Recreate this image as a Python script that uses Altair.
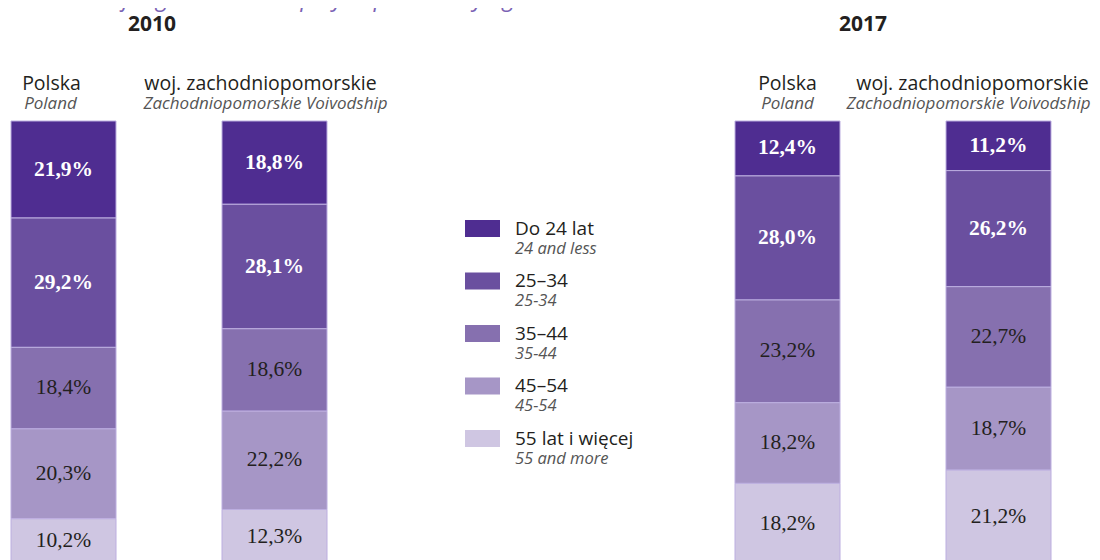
import altair as alt
import pandas as pd

# ---- data -------------------------------------------------------------
years = ["2010", "2017"]
regions = ["Polska", "woj. zachodniopomorskie"]
regions_en = ["Poland", "Zachodniopomorskie Voivodship"]
age_pl = ["Do 24 lat", "25\u201334", "35\u201344", "45\u201354", "55 lat i więcej"]
age_en = ["24 and less", "25-34", "35-44", "45-54", "55 and more"]
poland_2010 = [21.9, 29.2, 18.4, 20.3, 10.2]
zach_2010 = [18.8, 28.1, 18.6, 22.2, 12.3]
poland_2017 = [12.4, 28.0, 23.2, 18.2, 18.2]
zach_2017 = [11.2, 26.2, 22.7, 18.7, 21.2]
title_text = "Structure of registered unemployed persons by age"

colors = ["#4f2d91", "#6a4f9f", "#8670af", "#a696c6", "#cfc6e2"]

series = {
    ("2010", "Polska"): poland_2010,
    ("2010", "woj. zachodniopomorskie"): zach_2010,
    ("2017", "Polska"): poland_2017,
    ("2017", "woj. zachodniopomorskie"): zach_2017,
}

rows = []
for (yr, reg), vals in series.items():
    for i, v in enumerate(vals):
        rows.append({
            "year": yr, "region": reg, "age": age_pl[i], "idx": i, "value": v,
            "label": f"{v:.1f}".replace(".", ",") + "%",
        })
df = pd.DataFrame(rows)

hdr = pd.DataFrame([
    {"year": y, "region": r, "pl": r, "en": regions_en[j]}
    for y in years for j, r in enumerate(regions)
])
leg = pd.DataFrame({"age": age_pl, "en": age_en})
yrs = pd.DataFrame({"year": years})
ttl = pd.DataFrame({"t": [title_text]})

# ---- layout (pixels) ---------------------------------------------------
W, H = 1084, 552
pair_start, pair_step, pair_w = 3, 724, 316
bar_step, bar_w = 211, 105
n = 2
pi = 1 - pair_w / pair_step
po = (W / pair_step - n + pi) / 2
al = pair_start / (W - pair_step * (n - pi))
bpi = 1 - bar_w / bar_step
bar_top, bar_bottom = 113, 556

SANS = "Open Sans"
SERIF = "Liberation Serif"

xenc = alt.X("year:N", scale=alt.Scale(domain=years, paddingInner=pi,
                                       paddingOuter=po, align=al), axis=None)
xoff = alt.XOffset("region:N", scale=alt.Scale(domain=regions, paddingInner=bpi,
                                               paddingOuter=0))
yscale = alt.Scale(domain=[0, 100], range=[bar_bottom, bar_top], nice=False, zero=True)
cscale = alt.Scale(domain=age_pl, range=colors)

base = alt.Chart(df).transform_stack(
    stack="value", groupby=["year", "region"], as_=["v0", "v1"],
    sort=[alt.SortField("idx", order="descending")],
).transform_calculate(mid="(datum.v0 + datum.v1) / 2")

bars = base.mark_bar(stroke="#bcaee0", strokeWidth=1).encode(
    x=xenc, xOffset=xoff,
    y=alt.Y("v0:Q", scale=yscale, axis=None),
    y2="v1:Q",
    color=alt.Color("age:N", scale=cscale, legend=None),
)

lab_bold = base.transform_filter("datum.idx < 2").mark_text(
    font=SERIF, fontSize=21.5, fontWeight="bold", color="white", baseline="middle"
).encode(x=xenc, xOffset=xoff, y=alt.Y("mid:Q", scale=yscale, axis=None), text="label:N")

lab_norm = base.transform_filter("datum.idx >= 2").mark_text(
    font=SERIF, fontSize=21.5, color="#231f20", baseline="middle"
).encode(x=xenc, xOffset=xoff, y=alt.Y("mid:Q", scale=yscale, axis=None), text="label:N")

# (dx for Polish line, dx for English line)
hdr_dx = {("2010", "Polska"): (-12, -13), ("2010", "woj. zachodniopomorskie"): (-14, -9),
          ("2017", "Polska"): (0, 0), ("2017", "woj. zachodniopomorskie"): (-26, -30)}
hdr_layers = []
for (yr, reg), (dx1, dx2) in hdr_dx.items():
    hb = alt.Chart(hdr).transform_filter(
        f"datum.year == '{yr}' && datum.region == '{reg}'")
    hdr_layers.append(hb.mark_text(font=SANS, fontSize=19.5, color="#231f20",
                                   baseline="middle", dx=dx1)
                      .encode(x=xenc, xOffset=xoff, y=alt.value(75.5), text="pl:N"))
    hdr_layers.append(hb.mark_text(font=SANS, fontSize=17, fontStyle="italic",
                                   color="#555555", baseline="middle", dx=dx2)
                      .encode(x=xenc, xOffset=xoff, y=alt.value(95.5), text="en:N"))

yr_dx = {"2010": -17, "2017": -30}
yr_layers = [
    alt.Chart(yrs).transform_filter(f"datum.year == '{yr}'").mark_text(
        font=SANS, fontSize=21, fontWeight="bold", color="#231f20",
        baseline="middle", dx=dx
    ).encode(x=xenc, text="year:N", y=alt.value(17))
    for yr, dx in yr_dx.items()
]

lyscale = alt.Scale(type="point", domain=age_pl, range=[220.5, 430.5], padding=0)
ly = alt.Y("age:N", scale=lyscale, axis=None)
swatch = alt.Chart(leg).mark_point(
    shape="M-1,-0.486L1,-0.486L1,0.486L-1,0.486Z", size=1225, filled=True,
    opacity=1, strokeWidth=0
).encode(x=alt.value(474.5), y=ly,
         color=alt.Color("age:N", scale=cscale, legend=None))
leg_pl = alt.Chart(leg).mark_text(
    font=SANS, fontSize=19, color="#231f20", align="left", baseline="middle"
).encode(x=alt.value(507), y=ly, text="age:N")
leg_en = alt.Chart(leg).mark_text(
    font=SANS, fontSize=16.5, fontStyle="italic", color="#555555", align="left",
    baseline="middle", dy=20
).encode(x=alt.value(507), y=ly, text="en:N")

title = alt.Chart(ttl).mark_text(
    font=SANS, fontSize=23, fontStyle="italic", color="#7a62b4",
    align="left", baseline="alphabetic"
).encode(x=alt.value(2), y=alt.value(-2.5), text="t:N")

chart = alt.layer(
    bars, lab_bold, lab_norm, *hdr_layers, *yr_layers, swatch, leg_pl, leg_en, title
).resolve_scale(y="independent").properties(
    width=W, height=H, autosize=alt.AutoSizeParams(type="none"), padding=0
).configure_view(stroke=None)

chart.save("out.html", embed_options={"renderer": "svg", "actions": False})
